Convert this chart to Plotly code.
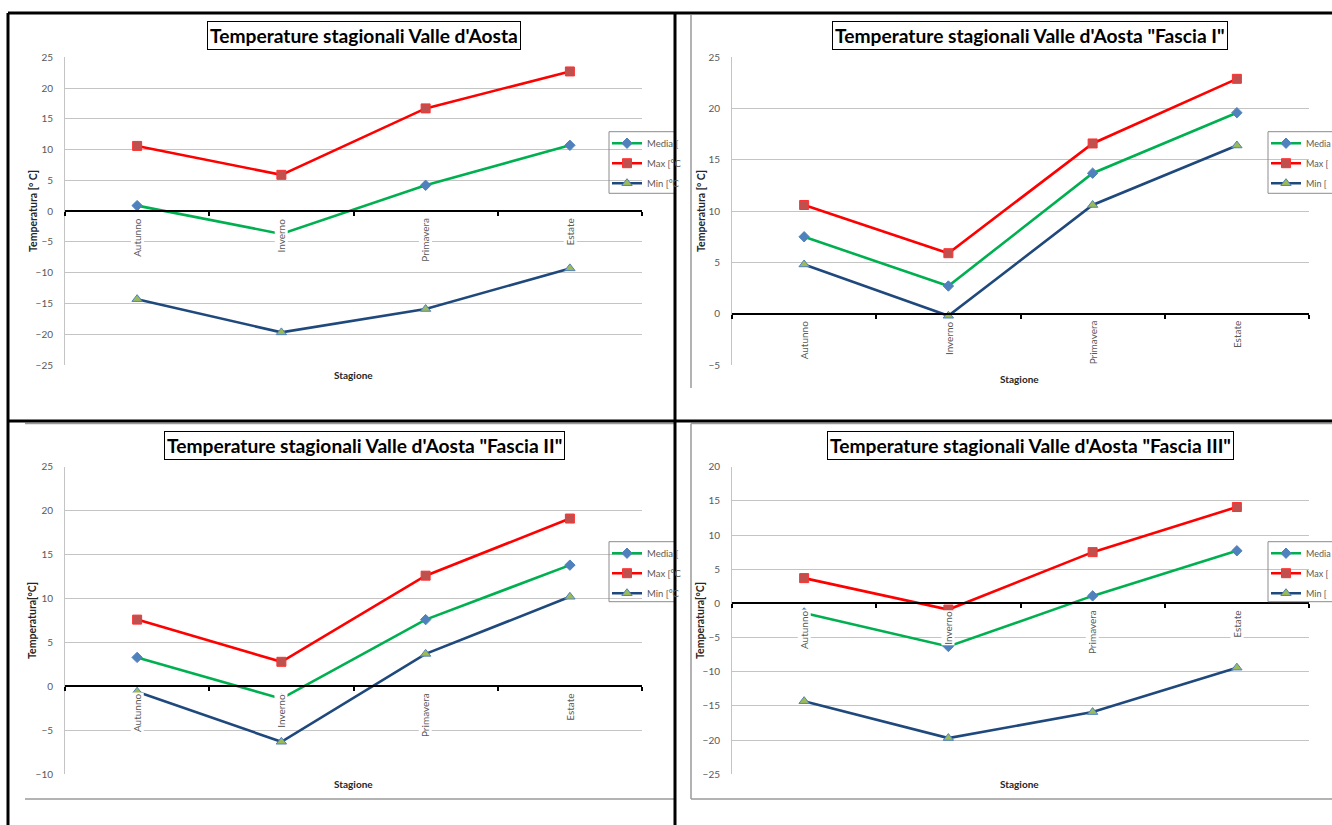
import plotly.graph_objects as go

# ---- data -------------------------------------------------------------
stagioni = ["Autunno", "Inverno", "Primavera", "Estate"]

# Valle d'Aosta (complessivo)
va_media = [0.9, -3.7, 4.2, 10.7]
va_max = [10.6, 5.9, 16.7, 22.7]
va_min = [-14.3, -19.7, -15.9, -9.3]

# Fascia I
f1_media = [7.5, 2.7, 13.7, 19.6]
f1_max = [10.6, 5.9, 16.6, 22.9]
f1_min = [4.8, -0.2, 10.6, 16.4]

# Fascia II
f2_media = [3.3, -1.4, 7.6, 13.8]
f2_max = [7.6, 2.8, 12.6, 19.1]
f2_min = [-0.6, -6.3, 3.7, 10.2]

# Fascia III
f3_media = [-1.4, -6.3, 1.1, 7.7]
f3_max = [3.7, -0.9, 7.5, 14.1]
f3_min = [-14.3, -19.7, -15.9, -9.4]

titoli = [
    "Temperature stagionali Valle d'Aosta",
    "Temperature stagionali Valle d'Aosta \"Fascia I\"",
    "Temperature stagionali Valle d'Aosta \"Fascia II\"",
    "Temperature stagionali Valle d'Aosta \"Fascia III\"",
]
ytitoli = ["Temperatura [° C]", "Temperatura [° C]", "Temperatura[°C]", "Temperatura[°C]"]
yranges = [(-25, 25), (-5, 25), (-10, 25), (-25, 20)]
# legend labels are clipped by the cell border / page edge
serie_nomi_sx = ["Media [", "Max [°C", "Min [°C"]
serie_nomi_dx = ["Media", "Max [", "Min ["]

# ---- page geometry (pixels) ------------------------------------------
W, H = 1332, 825
FONT = "Lato, 'Open Sans', sans-serif"


def fx(px):
    return px / W


def fy(py):
    return 1 - py / H


# plot-area boxes: (left, right, top, bottom) in pixels
boxes = [
    (65, 642, 57.3, 365),
    (732, 1309, 57.3, 365),
    (65, 642, 466.7, 774.3),
    (732, 1309, 466.7, 774.3),
]
title_pos = [(364, 35.5), (1030, 35.5), (364, 445), (1030, 445)]
xtitle_pos = [(353, 375), (1020, 379), (353, 784), (1020, 784)]
ytitle_pos = [(33, 211), (701, 211), (32, 621), (700, 621)]
# legend frame: (left, top, bottom)
legend_box = [(609, 131.7, 193.3), (1268, 131.7, 193.3),
              (609, 541.7, 601.7), (1268, 541.7, 601.7)]
legend_font = [9.5, 9, 9.5, 9]

dati = [
    (va_media, va_max, va_min),
    (f1_media, f1_max, f1_min),
    (f2_media, f2_max, f2_min),
    (f3_media, f3_max, f3_min),
]

stili = [
    dict(line=dict(color="#00b050", width=2.6),
         marker=dict(symbol="diamond", size=8, color="#4f81bd",
                     line=dict(color="#4f81bd", width=1))),
    dict(line=dict(color="#ff0000", width=2.6),
         marker=dict(symbol="square", size=9, color="#c0504d",
                     line=dict(color="#ff3030", width=1))),
    dict(line=dict(color="#1f497d", width=2.6),
         marker=dict(symbol="triangle-up", size=9, color="#9bbb59",
                     line=dict(color="#4f81bd", width=1))),
]

fig = go.Figure()
layout = dict(
    width=W, height=H,
    margin=dict(l=0, r=0, t=0, b=0, autoexpand=False),
    paper_bgcolor="white", plot_bgcolor="white",
    font=dict(family=FONT, color="#404040"),
    showlegend=True,
)
annotations = []
shapes = []

for i in range(4):
    n = i + 1
    sfx = "" if n == 1 else str(n)
    xa, ya = "x" + sfx, "y" + sfx
    lg = "legend" + sfx
    l, r, t, b = boxes[i]
    y0, y1 = yranges[i]
    dom_y = [fy(b), fy(t)]
    nomi = serie_nomi_sx if i % 2 == 0 else serie_nomi_dx

    for k, (valori, stile, nome) in enumerate(zip(dati[i], stili, nomi)):
        fig.add_trace(go.Scatter(
            x=stagioni, y=valori, name=nome, mode="lines+markers",
            xaxis=xa, yaxis=ya, legend=lg, legendgroup=f"g{n}{k}", **stile))

    # category axis crosses the value axis at 0
    pos0 = dom_y[0] + (0 - y0) / (y1 - y0) * (dom_y[1] - dom_y[0])
    layout["xaxis" + sfx] = dict(
        domain=[fx(l), fx(r)], type="category", range=[-0.5, 3.5],
        anchor="free", position=pos0,
        showline=True, linecolor="black", linewidth=2,
        ticks="outside", tickson="boundaries", ticklen=4,
        tickcolor="black", tickwidth=1.5,
        showticklabels=False, showgrid=False, zeroline=False,
        fixedrange=True,
    )
    layout["yaxis" + sfx] = dict(
        domain=dom_y, anchor=xa, range=[y0, y1], dtick=5,
        showgrid=True, gridcolor="#c4c4c4", gridwidth=1,
        showline=True, linecolor="#c4c4c4", linewidth=1,
        zeroline=False, ticks="", ticklabelstandoff=9,
        tickfont=dict(size=10, color="#595959", family=FONT),
        fixedrange=True,
    )

    # legend entries (frame drawn separately)
    lx, ltop, lbot = legend_box[i]
    layout[lg] = dict(
        x=fx(lx - 2), y=fy(ltop - 3), xanchor="left", yanchor="top",
        xref="paper", yref="paper",
        bgcolor="rgba(0,0,0,0)", borderwidth=0,
        font=dict(size=legend_font[i], color="#595959", family=FONT),
        itemwidth=30, tracegroupgap=1,
    )
    xend = 674 if i % 2 == 0 else W
    shapes += [
        dict(type="line", xref="paper", yref="paper",
             x0=fx(lx), x1=fx(lx), y0=fy(ltop), y1=fy(lbot),
             line=dict(color="#8c8c8c", width=1)),
        dict(type="line", xref="paper", yref="paper",
             x0=fx(lx), x1=fx(xend), y0=fy(ltop), y1=fy(ltop),
             line=dict(color="#8c8c8c", width=1)),
        dict(type="line", xref="paper", yref="paper",
             x0=fx(lx), x1=fx(xend), y0=fy(lbot), y1=fy(lbot),
             line=dict(color="#8c8c8c", width=1)),
    ]

    # category labels, rotated, sitting under the zero line
    for s in stagioni:
        annotations.append(dict(
            x=s, y=0, xref=xa, yref=ya, text=s, showarrow=False,
            textangle=-90, xanchor="center", yanchor="top", yshift=-6,
            bgcolor="white", borderpad=0,
            font=dict(size=10, color="#595959", family=FONT)))

    tx, ty = title_pos[i]
    annotations.append(dict(
        x=fx(tx), y=fy(ty), xref="paper", yref="paper", text="<b>" + titoli[i] + "</b>",
        showarrow=False, xanchor="center", yanchor="middle",
        bgcolor="white", bordercolor="black", borderwidth=1, borderpad=2,
        font=dict(size=19.2, color="black", family=FONT)))

    sx, sy = xtitle_pos[i]
    annotations.append(dict(
        x=fx(sx), y=fy(sy), xref="paper", yref="paper", text="<b>Stagione</b>",
        showarrow=False, xanchor="center", yanchor="middle",
        font=dict(size=10, color="#262626", family=FONT)))

    vx, vy = ytitle_pos[i]
    annotations.append(dict(
        x=fx(vx), y=fy(vy), xref="paper", yref="paper", text="<b>" + ytitoli[i] + "</b>",
        showarrow=False, textangle=-90, xanchor="center", yanchor="middle",
        font=dict(size=10.5, color="#262626", family=FONT)))

# chart-area borders (grey)
grey = dict(color="#9a9a9a", width=1.5)
for x0, y0_, x1, y1_ in [
    (691, 15, 691, 388),
    (25, 423.5, 675, 423.5), (25, 799, 675, 799),
    (691, 423.5, W, 423.5), (691, 423.5, 691, 799), (691, 799, W, 799),
]:
    shapes.append(dict(type="line", xref="paper", yref="paper",
                       x0=fx(x0), x1=fx(x1), y0=fy(y0_), y1=fy(y1_), line=grey))

# table frame (black)
blk = dict(color="black", width=3)
for x0, y0_, x1, y1_ in [
    (8, 13, W, 13), (8, 13, 8, H), (675, 13, 675, H), (8, 421, W, 421),
]:
    shapes.append(dict(type="line", xref="paper", yref="paper",
                       x0=fx(x0), x1=fx(x1), y0=fy(y0_), y1=fy(y1_), line=blk))

layout["annotations"] = annotations
layout["shapes"] = shapes
fig.update_layout(**layout)

fig.write_html("out.html", config={"displayModeBar": False})
